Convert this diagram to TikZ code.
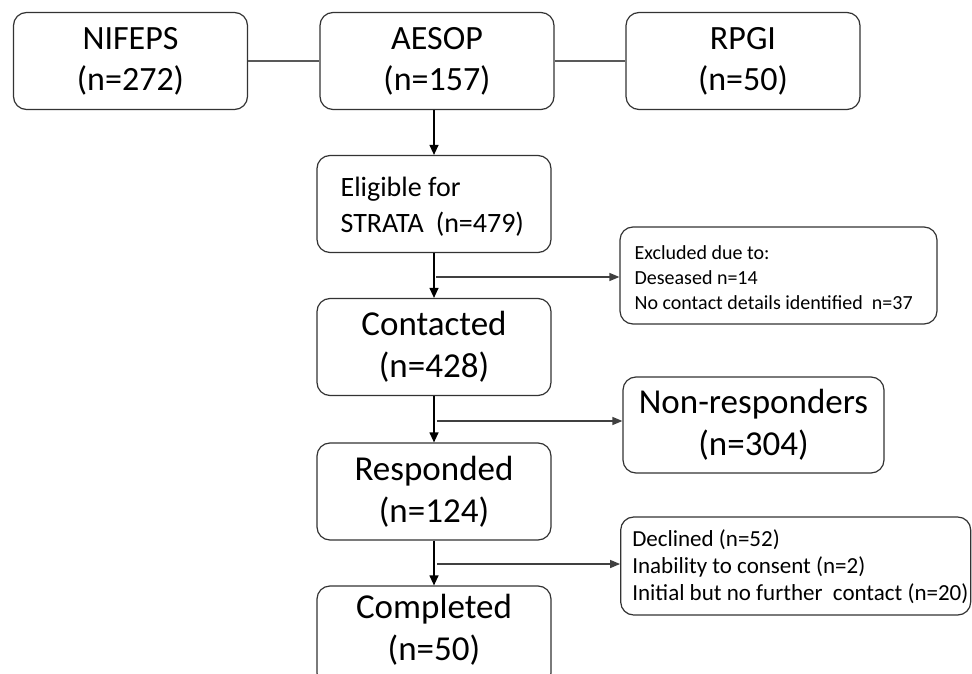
\documentclass[tikz,border=0pt]{standalone}
\usepackage{fontspec}
\setmainfont{Carlito}
\usetikzlibrary{arrows.meta,calc}
\begin{document}
\begin{tikzpicture}[x=1pt,y=-1pt,
  box/.style={draw=black!80, line width=1.2pt, rounded corners=13pt, minimum width=234pt, minimum height=97pt, inner sep=0pt, align=center},
  toptxt/.style={font=\fontsize{34}{41}\selectfont},
  bigtxt/.style={font=\fontsize{35}{42}\selectfont},
  lefttxt/.style={align=left, anchor=west, inner sep=0pt},
  arr/.style={-{Triangle[length=10pt,width=9pt]}, line width=1.2pt},
  side/.style={-{Triangle[length=10pt,width=8pt]}, line width=1.4pt, draw=black!75, fill=black!75},
  link/.style={line width=1.6pt, draw=black!65}]
\useasboundingbox (0,0) rectangle (972,674);
\clip (0,0) rectangle (972,674);

% top row
\node[box,toptxt] (nif) at (130.5,61) {NIFEPS\\(n=272)};
\node[box,toptxt] (aes) at (437,61) {AESOP\\(n=157)};
\node[box,toptxt] (rpg) at (743,61) {RPGI\\(n=50)};
\draw[link] (nif) -- (aes);
\draw[link] (aes) -- (rpg);

% eligible
\node[box] (eli) at (434,204) {};
\node[lefttxt, font=\fontsize{28}{36}\selectfont] (elitxt) at ($(eli.west)+(24,3)$) {Eligible for\\STRATA\hspace{12pt}(n=479)};

% excluded
\node[box, minimum width=317pt, minimum height=97pt] (exc) at (778.5,275.5) {};
\node[lefttxt, font=\fontsize{20}{25}\selectfont] (exctxt) at ($(exc.west)+(15,2)$) {Excluded due to:\\Deseased n=14\\No contact details identified\ \ n=37};

% main column
\node[box,bigtxt] (con) at (434,347) {Contacted\\(n=428)};
\node[box,bigtxt, minimum width=261pt, minimum height=96pt] (non) at (753.5,425) {Non-responders\\(n=304)};
\node[box,bigtxt] (res) at (434,491.5) {Responded\\(n=124)};
\node[box, minimum width=350pt, minimum height=98pt] (dec) at (795.7,566) {};
\node[lefttxt, font=\fontsize{23}{27}\selectfont] (dectxt) at ($(dec.west)+(12,1)$) {Declined (n=52)\\Inability to consent (n=2)\\Initial but no further\ \ contact (n=20)};
\node[box, minimum height=100pt] (com) at (434,636) {};
\node[bigtxt, align=center, inner sep=0pt] (comtxt) at (434,630) {Completed\\(n=50)};

% arrows
\draw[arr] (eli.north |- aes.south) -- (eli.north);
\draw[arr] (eli) -- (con);
\draw[arr] (con) -- (res);
\draw[arr] (res) -- (com);

\coordinate (b1) at (436,277);
\coordinate (b2) at (437,421);
\coordinate (b3) at (437,564);
\draw[side] (b1) -- (b1 -| exc.west);
\draw[side] (b2) -- (b2 -| non.west);
\draw[side] (b3) -- (b3 -| dec.west);
\end{tikzpicture}
\end{document}
